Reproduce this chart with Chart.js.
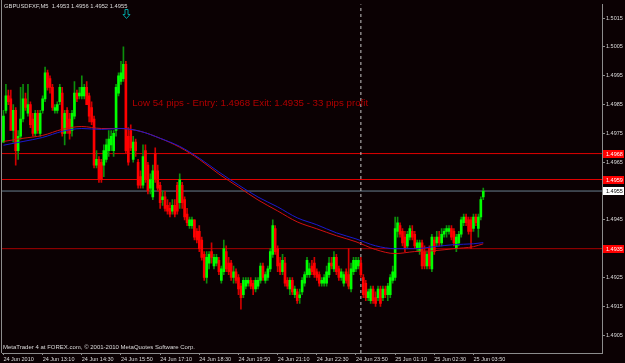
<!DOCTYPE html>
<html>
<head>
<meta charset="utf-8">
<script src="https://cdn.jsdelivr.net/npm/chart.js@4.4.1/dist/chart.umd.min.js"></script>
<style>
  html, body { margin: 0; padding: 0; background: #0b0103; }
  canvas { display: block; }
</style>
</head>
<body>
<canvas id="chart" width="625" height="363"></canvas>
<script>
// GBPUSDFXF M5 bars, 24 Jun 11:50 .. 25 Jun 04:10
const openP = [
  1.4972,1.4983,1.4988,1.4987,1.4976,1.4983,1.4969,1.4974,1.4980,1.4987,
  1.4982,1.4985,1.4980,1.4975,1.4982,1.4975,1.4983,1.4987,1.4996,1.4994,
  1.4991,1.4983,1.4983,1.4986,1.4989,1.4975,1.4983,1.4980,1.4976,1.4981,
  1.4989,1.4988,1.4988,1.4988,1.4991,1.4988,1.4984,1.4980,1.4964,1.4966,
  1.4965,1.4964,1.4966,1.4969,1.4971,1.4969,1.4976,1.4989,1.4993,1.4994,
  1.4999,1.4974,1.4976,1.4966,1.4972,1.4965,1.4960,1.4957,1.4969,1.4964,
  1.4956,1.4953,1.4968,1.4962,1.4957,1.4952,1.4953,1.4950,1.4949,1.4948,
  1.4950,1.4957,1.4951,1.4957,1.4952,1.4947,1.4943,1.4943,1.4945,1.4941,
  1.4941,1.4938,1.4933,1.4925,1.4930,1.4934,1.4929,1.4930,1.4931,1.4924,
  1.4927,1.4934,1.4930,1.4930,1.4925,1.4927,1.4925,1.4922,1.4919,1.4922,
  1.4923,1.4924,1.4923,1.4921,1.4922,1.4924,1.4929,1.4924,1.4925,1.4928,
  1.4933,1.4942,1.4935,1.4930,1.4927,1.4930,1.4924,1.4921,1.4924,1.4919,
  1.4920,1.4918,1.4920,1.4923,1.4926,1.4926,1.4929,1.4930,1.4927,1.4926,
  1.4923,1.4923,1.4923,1.4926,1.4930,1.4928,1.4932,1.4928,1.4925,1.4923,
  1.4927,1.4926,1.4921,1.4927,1.4928,1.4929,1.4930,1.4925,1.4923,1.4918,
  1.4917,1.4921,1.4918,1.4918,1.4921,1.4918,1.4921,1.4919,1.4919,1.4924,
  1.4925,1.4941,1.4943,1.4941,1.4939,1.4936,1.4939,1.4941,1.4940,1.4935,
  1.4934,1.4937,1.4934,1.4929,1.4935,1.4928,1.4938,1.4937,1.4939,1.4937,
  1.4940,1.4941,1.4941,1.4942,1.4941,1.4935,1.4937,1.4940,1.4944,1.4946,
  1.4945,1.4945,1.4942,1.4946,1.4942,1.4946,1.4953
];
const highP = [
  1.4983,1.4992,1.4990,1.4990,1.4985,1.4984,1.4976,1.4991,1.4992,1.4989,
  1.4992,1.4986,1.4982,1.4983,1.4983,1.4983,1.4988,1.4998,1.4997,1.4995,
  1.4992,1.4985,1.4986,1.4992,1.4991,1.4983,1.4984,1.4982,1.4983,1.4993,
  1.4990,1.4991,1.4995,1.4992,1.4993,1.4989,1.4986,1.4981,1.4969,1.4967,
  1.4966,1.4971,1.4973,1.4976,1.4976,1.4976,1.4992,1.4996,1.5000,1.5005,
  1.5000,1.4977,1.4978,1.4974,1.4973,1.4966,1.4962,1.4971,1.4971,1.4965,
  1.4961,1.4964,1.4970,1.4964,1.4958,1.4955,1.4955,1.4952,1.4951,1.4952,
  1.4952,1.4958,1.4961,1.4958,1.4953,1.4949,1.4946,1.4946,1.4945,1.4942,
  1.4943,1.4939,1.4934,1.4934,1.4934,1.4937,1.4933,1.4933,1.4932,1.4929,
  1.4938,1.4936,1.4932,1.4931,1.4929,1.4928,1.4926,1.4923,1.4925,1.4925,
  1.4925,1.4925,1.4924,1.4925,1.4925,1.4930,1.4930,1.4927,1.4929,1.4935,
  1.4945,1.4943,1.4936,1.4932,1.4933,1.4932,1.4925,1.4925,1.4925,1.4922,
  1.4921,1.4921,1.4925,1.4927,1.4932,1.4930,1.4931,1.4932,1.4928,1.4927,
  1.4925,1.4926,1.4929,1.4932,1.4932,1.4934,1.4933,1.4929,1.4928,1.4927,
  1.4928,1.4935,1.4930,1.4932,1.4932,1.4932,1.4932,1.4926,1.4924,1.4921,
  1.4922,1.4922,1.4920,1.4922,1.4922,1.4922,1.4922,1.4923,1.4926,1.4929,
  1.4946,1.4946,1.4944,1.4942,1.4941,1.4941,1.4943,1.4943,1.4941,1.4938,
  1.4938,1.4938,1.4936,1.4934,1.4936,1.4940,1.4939,1.4941,1.4941,1.4942,
  1.4942,1.4943,1.4943,1.4943,1.4942,1.4940,1.4941,1.4946,1.4947,1.4947,
  1.4946,1.4946,1.4947,1.4947,1.4947,1.4953,1.4956
];
const lowP = [
  1.4972,1.4982,1.4985,1.4976,1.4972,1.4964,1.4966,1.4973,1.4979,1.4983,
  1.4981,1.4977,1.4974,1.4974,1.4975,1.4974,1.4982,1.4986,1.4990,1.4989,
  1.4983,1.4982,1.4982,1.4985,1.4974,1.4971,1.4975,1.4973,1.4974,1.4980,
  1.4986,1.4987,1.4987,1.4987,1.4985,1.4979,1.4978,1.4963,1.4963,1.4958,
  1.4958,1.4960,1.4965,1.4967,1.4969,1.4967,1.4974,1.4988,1.4992,1.4993,
  1.4968,1.4964,1.4969,1.4965,1.4967,1.4956,1.4956,1.4956,1.4958,1.4954,
  1.4954,1.4952,1.4958,1.4955,1.4949,1.4950,1.4948,1.4947,1.4946,1.4947,
  1.4946,1.4947,1.4949,1.4949,1.4945,1.4943,1.4942,1.4942,1.4938,1.4937,
  1.4934,1.4931,1.4924,1.4923,1.4928,1.4930,1.4928,1.4929,1.4926,1.4923,
  1.4926,1.4927,1.4926,1.4924,1.4923,1.4923,1.4919,1.4914,1.4918,1.4921,
  1.4922,1.4921,1.4919,1.4920,1.4921,1.4923,1.4924,1.4923,1.4924,1.4927,
  1.4932,1.4933,1.4927,1.4926,1.4926,1.4922,1.4921,1.4919,1.4919,1.4918,
  1.4916,1.4916,1.4919,1.4922,1.4925,1.4925,1.4926,1.4925,1.4924,1.4922,
  1.4922,1.4922,1.4922,1.4925,1.4928,1.4927,1.4926,1.4924,1.4924,1.4922,
  1.4923,1.4921,1.4920,1.4926,1.4927,1.4928,1.4925,1.4918,1.4917,1.4917,
  1.4916,1.4916,1.4915,1.4917,1.4915,1.4917,1.4918,1.4917,1.4918,1.4923,
  1.4924,1.4939,1.4939,1.4936,1.4934,1.4935,1.4938,1.4938,1.4935,1.4934,
  1.4933,1.4928,1.4928,1.4928,1.4928,1.4927,1.4933,1.4936,1.4936,1.4936,
  1.4939,1.4939,1.4940,1.4938,1.4936,1.4934,1.4936,1.4939,1.4943,1.4943,
  1.4940,1.4935,1.4941,1.4943,1.4939,1.4945,1.4952
];
const closeP = [
  1.4981,1.4988,1.4986,1.4976,1.4983,1.4969,1.4974,1.4980,1.4987,1.4984,
  1.4985,1.4978,1.4975,1.4982,1.4976,1.4982,1.4987,1.4996,1.4991,1.4991,
  1.4984,1.4984,1.4985,1.4991,1.4975,1.4982,1.4976,1.4975,1.4982,1.4989,
  1.4987,1.4989,1.4991,1.4991,1.4985,1.4981,1.4979,1.4964,1.4966,1.4959,
  1.4959,1.4969,1.4971,1.4973,1.4974,1.4975,1.4991,1.4995,1.4996,1.4999,
  1.4969,1.4965,1.4970,1.4972,1.4969,1.4957,1.4957,1.4967,1.4959,1.4955,
  1.4959,1.4962,1.4959,1.4956,1.4951,1.4953,1.4949,1.4948,1.4947,1.4950,
  1.4947,1.4948,1.4959,1.4951,1.4946,1.4944,1.4945,1.4945,1.4939,1.4938,
  1.4935,1.4932,1.4925,1.4932,1.4933,1.4932,1.4932,1.4932,1.4927,1.4928,
  1.4935,1.4928,1.4927,1.4925,1.4927,1.4924,1.4921,1.4918,1.4924,1.4924,
  1.4924,1.4922,1.4921,1.4924,1.4924,1.4929,1.4925,1.4926,1.4928,1.4934,
  1.4943,1.4934,1.4929,1.4927,1.4931,1.4923,1.4922,1.4924,1.4920,1.4921,
  1.4917,1.4919,1.4924,1.4926,1.4931,1.4928,1.4927,1.4926,1.4925,1.4923,
  1.4924,1.4925,1.4927,1.4930,1.4929,1.4932,1.4927,1.4925,1.4927,1.4926,
  1.4924,1.4922,1.4928,1.4931,1.4931,1.4931,1.4926,1.4919,1.4918,1.4920,
  1.4921,1.4917,1.4916,1.4921,1.4916,1.4921,1.4919,1.4922,1.4925,1.4927,
  1.4942,1.4944,1.4940,1.4937,1.4935,1.4940,1.4942,1.4939,1.4936,1.4937,
  1.4937,1.4929,1.4929,1.4933,1.4929,1.4939,1.4934,1.4939,1.4937,1.4940,
  1.4941,1.4942,1.4942,1.4939,1.4937,1.4939,1.4940,1.4945,1.4946,1.4944,
  1.4941,1.4941,1.4946,1.4944,1.4946,1.4952,1.4955
];

// two moving averages, read every 8 bars
const maIdx = [0,8,16,24,32,40,48,56,64,72,80,88,96,104,112,120,128,136,144,152,160,168,176,184,192,196];
const maRed = [1.49722,1.49733,1.49743,1.49764,1.49774,1.49767,1.49767,1.49757,1.49733,1.49702,1.49660,1.49609,1.49564,
               1.49519,1.49481,1.49443,1.49419,1.49395,1.49374,1.49347,1.49333,1.49340,1.49343,1.49350,1.49357,1.49367];
const maBlue = [1.49709,1.49722,1.49736,1.49757,1.49767,1.49764,1.49767,1.49757,1.49733,1.49705,1.49664,1.49616,1.49571,
                1.49529,1.49495,1.49457,1.49433,1.49405,1.49384,1.49360,1.49350,1.49350,1.49357,1.49364,1.49367,1.49371];

// horizontal lines and their price tags
const levels = [1.4968, 1.4959, 1.4955, 1.4935];
const separatorIdx = 146; // 25 Jun 00:00

const xTickIdx = [0,16,32,48,64,80,96,112,128,144,160,176,192];
const xLabels = ["24 Jun 2010","24 Jun 13:10","24 Jun 14:30","24 Jun 15:50","24 Jun 17:10","24 Jun 18:30",
                 "24 Jun 19:50","24 Jun 21:10","24 Jun 22:30","24 Jun 23:50","25 Jun 01:10","25 Jun 02:30","25 Jun 03:50"];
const yTicks = [1.4905,1.4915,1.4925,1.4935,1.4945,1.4955,1.4965,1.4975,1.4985,1.4995,1.5005,1.5015];

const title = "GBPUSDFXF,M5  1.4953 1.4956 1.4952 1.4955";
const note = "Low 54 pips - Entry: 1.4968 Exit: 1.4935 - 33 pips profit";
const noteIdx = 53, notePrice = 1.49855;
const arrowIdx = 50, arrowPrice = 1.5018;
const footer = "MetaTrader 4 at FOREX.com, \u00a9 2001-2010 MetaQuotes Software Corp.";

const xMin = -0.6, xMax = 244.5;
const yMin = 1.48988, yMax = 1.50198;

const levelColors = ['#e00000', '#e00000', '#6a8090', '#a80000'];
const tagBg = ['#ff0000', '#ff0000', '#ffffff', '#ff0000'];
const tagFg = ['#ffffff', '#ffffff', '#000000', '#ffffff'];
const small = { family: 'Liberation Sans', size: 5.5 };

const barIdx = openP.map((_, i) => i);
const byDir = (up, down) => ctx => closeP[ctx.dataIndex] >= openP[ctx.dataIndex] ? up : down;

const overlay = {
  id: 'overlay',
  beforeDraw(c) {
    const ctx = c.ctx;
    ctx.save();
    ctx.fillStyle = '#0b0103';
    ctx.fillRect(0, 0, c.width, c.height);
    ctx.restore();
  },
  afterDraw(c) {
    const ctx = c.ctx, sx = c.scales.x, sy = c.scales.y, a = c.chartArea;
    ctx.save();
    ctx.strokeStyle = '#8c8c8c';
    ctx.lineWidth = 1;
    ctx.beginPath(); ctx.moveTo(1.5, 0); ctx.lineTo(1.5, a.bottom); ctx.stroke();

    ctx.font = '5.5px "Liberation Sans"';
    ctx.textBaseline = 'middle';
    levels.forEach((p, k) => {
      const py = Math.round(sy.getPixelForValue(p));
      ctx.fillStyle = tagBg[k];
      ctx.fillRect(a.right + 1, py - 4, 21, 8);
      ctx.fillStyle = tagFg[k];
      ctx.fillText(p.toFixed(4), a.right + 4, py + 0.5);
    });

    ctx.fillStyle = '#dcdcdc';
    ctx.font = '5.8px "Liberation Sans"';
    ctx.fillText(title, 4, 6.5);
    ctx.font = '6px "Liberation Sans"';
    ctx.fillText(footer, 3, 347);

    ctx.fillStyle = '#b00000';
    ctx.font = '9.7px "Liberation Sans"';
    ctx.fillText(note, sx.getPixelForValue(noteIdx) - 1, sy.getPixelForValue(notePrice));

    const ax = Math.round(sx.getPixelForValue(arrowIdx)) + 0.5;
    const ay = Math.round(sy.getPixelForValue(arrowPrice)) + 0.5;
    ctx.strokeStyle = '#00a0a0';
    ctx.beginPath();
    ctx.moveTo(ax - 1.5, ay); ctx.lineTo(ax + 1.5, ay); ctx.lineTo(ax + 1.5, ay + 5);
    ctx.lineTo(ax + 3.5, ay + 5); ctx.lineTo(ax, ay + 9); ctx.lineTo(ax - 3.5, ay + 5);
    ctx.lineTo(ax - 1.5, ay + 5); ctx.closePath();
    ctx.stroke();
    ctx.restore();
  }
};

const datasets = [];
levels.forEach((p, k) => {
  datasets.push({
    type: 'line', data: [{x: xMin, y: p}, {x: xMax, y: p}],
    borderColor: levelColors[k], borderWidth: 1, pointRadius: 0, order: 8
  });
});
datasets.push({
  type: 'line', data: [{x: separatorIdx, y: yMin}, {x: separatorIdx, y: yMax}],
  borderColor: '#c8c8c8', borderWidth: 1, borderDash: [3, 3], pointRadius: 0, order: 7
});
datasets.push({
  type: 'bar', data: barIdx.map(i => ({x: i, y: [lowP[i], highP[i]]})),
  backgroundColor: byDir('#0c8f0c', '#d20000'), barThickness: 1, grouped: false, order: 5
});
datasets.push({
  type: 'bar', data: barIdx.map(i => ({x: i, y: [openP[i], closeP[i]]})),
  backgroundColor: byDir('#00ff00', '#ff0000'), barThickness: 2, minBarLength: 1, grouped: false, order: 4
});
datasets.push({
  type: 'line', data: maIdx.map((v, k) => ({x: v, y: maRed[k]})),
  borderColor: '#d01010', borderWidth: 1, pointRadius: 0, cubicInterpolationMode: 'monotone', order: 2
});
datasets.push({
  type: 'line', data: maIdx.map((v, k) => ({x: v, y: maBlue[k]})),
  borderColor: '#1a1ad0', borderWidth: 1, pointRadius: 0, cubicInterpolationMode: 'monotone', order: 1
});

new Chart(document.getElementById('chart'), {
  type: 'bar',
  data: { datasets },
  plugins: [overlay],
  options: {
    responsive: false,
    animation: false,
    events: [],
    layout: { padding: { left: 2, top: 2, right: 0, bottom: 0 } },
    plugins: { legend: { display: false }, tooltip: { enabled: false } },
    scales: {
      x: {
        type: 'linear', min: xMin, max: xMax, offset: false,
        afterBuildTicks: s => { s.ticks = xTickIdx.map(v => ({ value: v })); },
        afterFit: s => { s.height = 10; },
        grid: { display: true, drawOnChartArea: false, drawTicks: true, tickLength: 2, color: '#8c8c8c', offset: false },
        border: { display: true, color: '#8c8c8c' },
        ticks: { color: '#dcdcdc', font: small, padding: 1, align: 'start', autoSkip: false, maxRotation: 0,
                 callback: (v, i) => xLabels[i] }
      },
      y: {
        position: 'right', min: yMin, max: yMax,
        afterBuildTicks: s => { s.ticks = yTicks.map(v => ({ value: v })); },
        afterFit: s => { s.width = 23; },
        grid: { display: true, drawOnChartArea: false, drawTicks: true, tickLength: 3, color: '#8c8c8c' },
        border: { display: true, color: '#8c8c8c' },
        ticks: { color: '#dcdcdc', font: small, padding: 1, callback: v => v.toFixed(4) }
      }
    }
  }
});
</script>
</body>
</html>
